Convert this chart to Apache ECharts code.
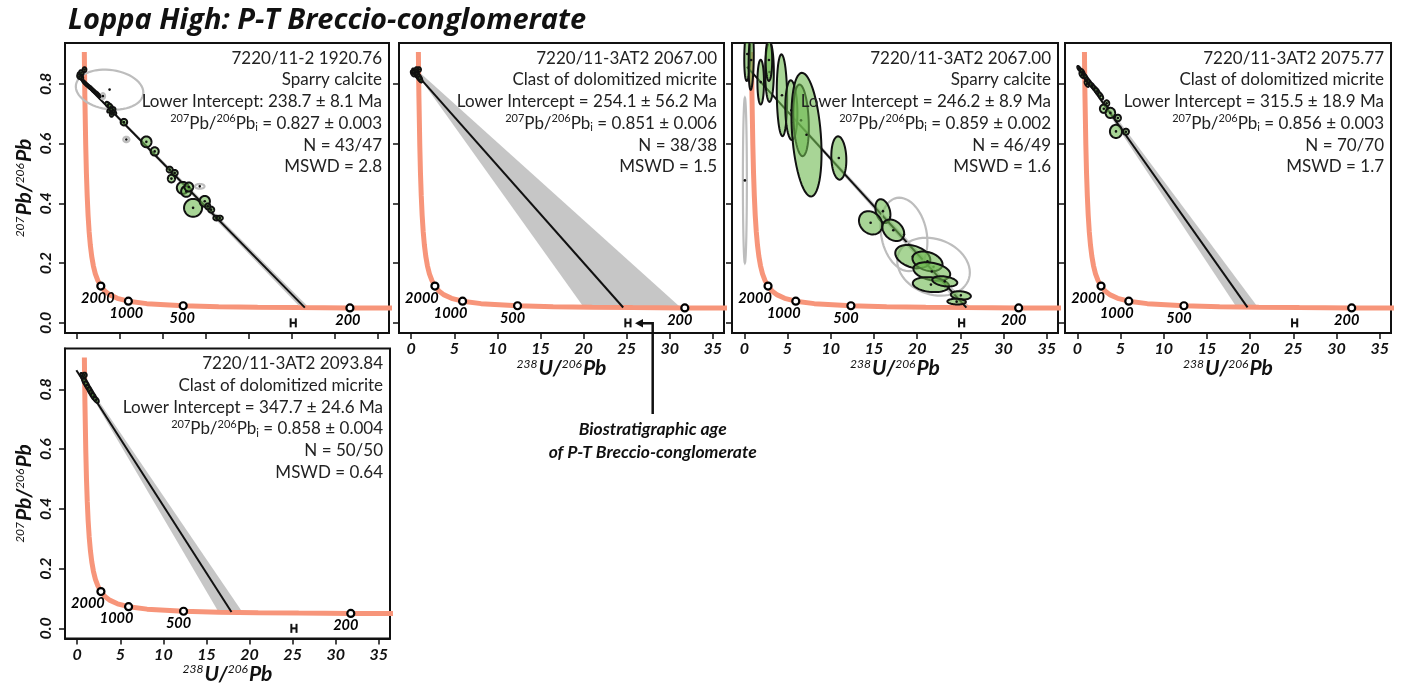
<!DOCTYPE html>
<html><head><meta charset="utf-8">
<script src="https://cdn.jsdelivr.net/npm/echarts@6/dist/echarts.min.js"></script>
<style>html,body{margin:0;padding:0;background:#fff}#c{width:1403px;height:689px}</style>
</head><body><div id="c"></div>
<script>
// ---------- shared data ----------
const xTicks = [0, 5, 10, 15, 20, 25, 30, 35];
const yTicks = [0, 0.2, 0.4, 0.6, 0.8];
const concordia = [[0.83,0.907],[0.853,0.846],[0.89,0.76],[0.99,0.597],[1.07,0.503],[1.163,0.425],[1.267,0.36],[1.387,0.306],[1.525,0.261],[1.687,0.223],[1.88,0.191],[2.111,0.164],[2.394,0.142],[2.749,0.123],[3.206,0.107],[3.817,0.0936],[4.673,0.0822],[5.96,0.0725],[8.1,0.0643],[12.34,0.0573],[16.47,0.0542],[21.0,0.0524],[25.7,0.0512],[31.75,0.0501],[37.4,0.0495]];
const ageX = [2.749, 5.96, 12.34, 31.75];
const ageY = [0.123, 0.0725, 0.0573, 0.0501];
const ageLabels = ['2000', '1000', '500', '200'];
const bioAgeX = [24.85, 25.45];
const bioAgeY = [0];

// ---------- panel 1 ----------
const p1Text = ['7220/11-2 1920.76', 'Sparry calcite', 'Lower Intercept: 238.7 ± 8.1 Ma', '{s|207}Pb/{s|206}Pb{i|i} = 0.827 ± 0.003', 'N = 43/47', 'MSWD = 2.8'];
const p1Line = [[0.3, 0.818], [26.5, 0.0508]];
const p1Env = [[0.3, 0.816], [26.0, 0.0512], [27.0, 0.0507], [0.3, 0.822]];
const p1Green = [
  [0.35,0.830,0.30,0.009,-0.3],[0.50,0.838,0.25,0.008,-0.3],[0.85,0.848,0.22,0.008,0],[0.45,0.822,0.25,0.007,-0.3],[0.25,0.824,0.25,0.008,-0.3],
  [0.8,0.806,0.22,0.007,-0.6],[1.0,0.800,0.22,0.007,-0.6],[1.2,0.795,0.22,0.007,-0.6],[1.4,0.790,0.22,0.007,-0.6],
  [1.6,0.786,0.22,0.007,-0.6],[1.8,0.780,0.22,0.007,-0.6],[2.0,0.775,0.22,0.007,-0.6],[2.3,0.768,0.22,0.007,-0.6],[2.5,0.762,0.2,0.007,-0.6],
  [3.6,0.730,0.3,0.010,-0.5],[3.9,0.722,0.3,0.012,-0.5],[4.1,0.712,0.35,0.010,0.3],[4.3,0.705,0.25,0.008,-0.5],[3.8,0.712,0.3,0.008,0.5],[4.0,0.698,0.2,0.008,0],
  [5.44,0.672,0.38,0.011,0],[8.05,0.606,0.6,0.018,0],[9.02,0.574,0.47,0.014,0],
  [10.77,0.513,0.35,0.010,0],[11.35,0.502,0.35,0.010,0],[10.97,0.483,0.42,0.013,0],
  [12.3,0.452,0.7,0.020,0],[12.7,0.440,0.6,0.018,0],[13.0,0.455,0.5,0.015,0],
  [13.49,0.385,1.05,0.030,0],[14.85,0.407,0.6,0.018,0],[15.6,0.379,0.35,0.010,0],[15.2,0.390,0.3,0.010,0],
  [16.2,0.351,0.35,0.008,0],[16.6,0.351,0.35,0.008,0]
];
const p1Grey = [[3.77,0.781,3.93,0.067,-0.15],[2.99,0.759,0.25,0.010,0],[5.72,0.614,0.35,0.009,0],[14.27,0.457,0.55,0.008,0]];

// ---------- panel 2 ----------
const p2Text = ['7220/11-3AT2 2067.00', 'Clast of dolomitized micrite', 'Lower Intercept = 254.1 ± 56.2 Ma', '{s|207}Pb/{s|206}Pb{i|i} = 0.851 ± 0.006', 'N = 38/38', 'MSWD = 1.5'];
const p2Line = [[0.3, 0.843], [24.6, 0.0515]];
const p2Env = [[0.6, 0.836], [20.0, 0.053], [31.3, 0.0503], [0.6, 0.848]];
const p2Green = [[0.2,0.835,0.25,0.010,-0.5],[0.35,0.842,0.25,0.010,-0.5],[0.5,0.838,0.3,0.010,-0.5],[0.65,0.830,0.3,0.010,-0.5],
  [0.8,0.826,0.3,0.012,-0.5],[0.95,0.820,0.3,0.012,-0.5],[1.05,0.815,0.25,0.010,-0.5],[0.88,0.848,0.25,0.008,0],[0.6,0.848,0.2,0.008,0]];
const p2Grey = [];

// ---------- panel 3 ----------
const p3Text = ['7220/11-3AT2 2067.00', 'Sparry calcite', 'Lower Intercept = 246.2 ± 8.9 Ma', '{s|207}Pb/{s|206}Pb{i|i} = 0.859 ± 0.002', 'N = 46/49', 'MSWD = 1.6'];
const p3Line = [[0.3, 0.857], [25.7, 0.0511]];
const p3Env = [[0.3, 0.855], [25.2, 0.0512], [26.2, 0.0508], [0.3, 0.861]];
const p3Green = [
  [0.35,0.90,0.35,0.09,0.2],[0.8,0.88,0.3,0.10,0.2],[1.9,0.806,0.38,0.075,0],[2.92,0.84,0.5,0.10,0],[2.85,0.88,0.38,0.07,0],
  [4.36,0.762,0.6,0.137,-0.1],[5.45,0.712,0.7,0.10,-0.1],[6.57,0.678,0.9,0.12,-0.2],[7.2,0.63,1.74,0.207,-0.3],
  [10.94,0.552,0.87,0.0725,-0.1],[16.04,0.374,0.87,0.040,-0.3],[14.62,0.335,1.35,0.039,-0.2],[17.24,0.31,1.26,0.036,-0.3],
  [19.5,0.222,2.03,0.039,-0.3],[21.2,0.206,1.74,0.033,-0.3],[21.7,0.172,2.13,0.031,-0.3],[21.6,0.128,2.1,0.025,-0.2],
  [23.2,0.139,1.45,0.017,-0.3],[25.06,0.092,1.16,0.014,-0.2],[24.57,0.071,1.07,0.0095,-0.1]
];
const p3Grey = [[0.07,0.477,0.23,0.276,0],[18.48,0.296,2.71,0.123,-0.2],[21.9,0.188,4.2,0.097,-0.2]];

// ---------- panel 4 ----------
const p4Text = ['7220/11-3AT2 2075.77', 'Clast of dolomitized micrite', 'Lower Intercept = 315.5 ± 18.9 Ma', '{s|207}Pb/{s|206}Pb{i|i} = 0.856 ± 0.003', 'N = 70/70', 'MSWD = 1.7'];
const p4Line = [[0.2, 0.85], [19.7, 0.052]];
const p4Env = [[0.3, 0.846], [18.4, 0.0535], [20.9, 0.0525], [0.3, 0.852]];
const p4Green = [
  [0.2,0.852,0.2,0.008,-0.6],[0.4,0.845,0.2,0.008,-0.6],[0.6,0.840,0.25,0.010,-0.6],[0.8,0.828,0.25,0.010,-0.6],[1.0,0.820,0.25,0.012,-0.6],
  [1.2,0.812,0.25,0.010,-0.6],[1.4,0.805,0.25,0.010,-0.6],[1.7,0.795,0.3,0.010,-0.6],[2.0,0.785,0.3,0.010,-0.6],[2.3,0.775,0.3,0.012,-0.6],
  [2.7,0.760,0.3,0.012,-0.6],[0.5,0.830,0.25,0.010,-0.6],[1.1,0.800,0.25,0.010,-0.6],[3.4,0.735,0.3,0.010,0],[3.07,0.717,0.45,0.014,0],
  [3.83,0.703,0.55,0.017,0],[4.7,0.686,0.35,0.011,0],[4.48,0.641,0.7,0.022,0],[5.63,0.640,0.35,0.010,0]
];
const p4Grey = [];

// ---------- panel 5 ----------
const p5Text = ['7220/11-3AT2 2093.84', 'Clast of dolomitized micrite', 'Lower Intercept = 347.7 ± 24.6 Ma', '{s|207}Pb/{s|206}Pb{i|i} = 0.858 ± 0.004', 'N = 50/50', 'MSWD = 0.64'];
const p5Line = [[-0.1, 0.864], [17.9, 0.0545]];
const p5Env = [[0.5, 0.836], [16.4, 0.0548], [19.2, 0.0532], [0.5, 0.846]];
const p5Green = [[0.6,0.845,0.25,0.010,-0.5],[0.75,0.835,0.25,0.012,-0.5],[0.9,0.825,0.3,0.012,-0.5],[1.1,0.815,0.3,0.012,-0.5],
  [1.3,0.805,0.3,0.010,-0.5],[1.5,0.795,0.3,0.012,-0.5],[1.7,0.785,0.3,0.012,-0.5],[1.9,0.776,0.3,0.012,-0.5],[2.2,0.765,0.3,0.010,-0.5],
  [0.85,0.848,0.25,0.008,0]];
const p5Grey = [];

// ---------- layout ----------
const FONT = 'Lato, "Noto Sans", sans-serif';
const grids = [
  {left: 65, top: 43, width: 324, height: 290},
  {left: 399, top: 43, width: 325, height: 290},
  {left: 732, top: 43, width: 326, height: 290},
  {left: 1065, top: 43, width: 326, height: 290},
  {left: 65, top: 348.5, width: 325, height: 290}
];
const labelShiftA = [-3, -2, -1, -2];
const labelShiftB = [-13, -12, -5, -5];
const panels = [
  {text: p1Text, line: p1Line, env: p1Env, green: p1Green, grey: p1Grey, xl: false, yl: true, shift: labelShiftA},
  {text: p2Text, line: p2Line, env: p2Env, green: p2Green, grey: p2Grey, xl: true, yl: false, shift: labelShiftB},
  {text: p3Text, line: p3Line, env: p3Env, green: p3Green, grey: p3Grey, xl: true, yl: false, shift: labelShiftB},
  {text: p4Text, line: p4Line, env: p4Env, green: p4Green, grey: p4Grey, xl: true, yl: false, shift: labelShiftB},
  {text: p5Text, line: p5Line, env: p5Env, green: p5Green, grey: p5Grey, xl: true, yl: true, shift: labelShiftB}
];

function ellRender(kind) {
  return function (params, api) {
    const cx = api.value(0), cy = api.value(1), sx = api.value(2), sy = api.value(3), r = api.value(4);
    const q = Math.sqrt(Math.max(0, 1 - r * r));
    const pts = [];
    for (let k = 0; k < 60; k++) {
      const t = 2 * Math.PI * k / 60;
      pts.push(api.coord([cx + sx * Math.cos(t), cy + sy * (r * Math.cos(t) + q * Math.sin(t))]));
    }
    const c = api.coord([cx, cy]);
    const style = kind === 'green'
      ? {fill: 'rgba(110,185,80,0.6)', stroke: '#111', lineWidth: 2}
      : {fill: 'rgba(0,0,0,0)', stroke: '#bdbdbd', lineWidth: 2.2};
    return {type: 'group', children: [
      {type: 'polygon', shape: {points: pts}, style: style},
      {type: 'circle', shape: {cx: c[0], cy: c[1], r: 1.3}, style: {fill: '#111'}}
    ]};
  };
}
function polyRender(points) {
  return function (params, api) {
    if (params.dataIndex !== 0) return null;
    return {type: 'polygon', shape: {points: points.map(p => api.coord(p))}, style: {fill: '#c6c6c6'}};
  };
}
function bioRender(params, api) {
  const a = api.coord([api.value(0), api.value(2)]);
  const b = api.coord([api.value(1), api.value(2)]);
  const ls = {stroke: '#111', lineWidth: 2};
  return {type: 'group', children: [
    {type: 'line', shape: {x1: a[0], y1: a[1], x2: b[0], y2: b[1]}, style: ls},
    {type: 'line', shape: {x1: a[0], y1: a[1] - 4.5, x2: a[0], y2: a[1] + 4.5}, style: ls},
    {type: 'line', shape: {x1: b[0], y1: b[1] - 4.5, x2: b[0], y2: b[1] + 4.5}, style: ls}
  ]};
}

const supRich = {
  s: {fontSize: 12, fontFamily: FONT, fontStyle: 'italic', color: '#111', verticalAlign: 'top', padding: [0, 1, 0, 0]},
  m: {fontSize: 21, fontFamily: FONT, fontStyle: 'italic', fontWeight: 'bold', color: '#111'}
};
const annRich = {
  s: {fontSize: 11, fontFamily: FONT, fill: '#222', verticalAlign: 'top', lineHeight: 20},
  i: {fontSize: 11, fontFamily: FONT, fill: '#222', verticalAlign: 'bottom', lineHeight: 14}
};

const xAxes = [], yAxes = [], series = [], graphics = [];
panels.forEach((p, i) => {
  xAxes.push({
    gridIndex: i, type: 'value', min: -1.42, max: 36.3,
    axisLine: {show: true, onZero: false, lineStyle: {color: '#111', width: 2}},
    axisTick: {show: true, length: 6, customValues: xTicks, lineStyle: {color: '#111', width: 1.5}},
    axisLabel: {show: p.xl, customValues: xTicks, margin: 8, fontFamily: FONT, fontStyle: 'italic', fontWeight: 'bold', fontSize: 16, color: '#111'},
    splitLine: {show: false},
    name: p.xl ? '{s|238}{m|U/}{s|206}{m|Pb}' : '', nameLocation: 'middle', nameGap: 22,
    nameTextStyle: {rich: supRich}
  });
  yAxes.push({
    gridIndex: i, type: 'value', min: -0.034, max: 0.937,
    axisLine: {show: true, onZero: false, lineStyle: {color: '#111', width: 2}},
    axisTick: {show: true, length: 6, customValues: yTicks, lineStyle: {color: '#111', width: 1.5}},
    axisLabel: {show: p.yl, customValues: yTicks, rotate: 90, margin: 11, fontFamily: FONT, fontStyle: 'italic', fontWeight: 'bold', fontSize: 16, color: '#111',
      formatter: v => v.toFixed(1)},
    splitLine: {show: false},
    name: p.yl ? '{s|207}{m|Pb/}{s|206}{m|Pb}' : '', nameLocation: 'middle', nameGap: 30, nameRotate: 90,
    nameTextStyle: {rich: supRich}
  });
  series.push({type: 'custom', xAxisIndex: i, yAxisIndex: i, data: p.env, renderItem: polyRender(p.env), clip: true, silent: true, z: 1});
  series.push({type: 'line', xAxisIndex: i, yAxisIndex: i, data: concordia, showSymbol: false, clip: true, silent: true,
    lineStyle: {color: '#F7957A', width: 5}, z: 2});
  series.push({type: 'line', xAxisIndex: i, yAxisIndex: i, data: p.line, showSymbol: false, silent: true,
    lineStyle: {color: '#111', width: 2}, z: 3});
  series.push({type: 'custom', xAxisIndex: i, yAxisIndex: i, data: p.grey, renderItem: ellRender('grey'), clip: true, z: 4});
  series.push({type: 'custom', xAxisIndex: i, yAxisIndex: i, data: p.green, renderItem: ellRender('green'), clip: true, z: 5});
  series.push({type: 'scatter', xAxisIndex: i, yAxisIndex: i, symbol: 'circle', symbolSize: 7,
    data: ageX.map((x, k) => ({value: [x, ageY[k]], label: {offset: [p.shift[k], 0]}})),
    itemStyle: {color: '#fff', borderColor: '#000', borderWidth: 2.2, opacity: 1}, z: 6, silent: true,
    label: {show: true, position: 'bottom', distance: 0, formatter: q => ageLabels[q.dataIndex], textBorderWidth: 0, opacity: 1,
      fontFamily: FONT, fontStyle: 'italic', fontWeight: 'bold', fontSize: 14.5, color: '#000'}});
  series.push({type: 'custom', xAxisIndex: i, yAxisIndex: i, data: [[bioAgeX[0], bioAgeX[1], bioAgeY[0]]],
    encode: {x: [0, 1], y: 2}, renderItem: bioRender, z: 6, silent: true});
  const g = grids[i];
  p.text.forEach((t, k) => {
    graphics.push({type: 'text', x: g.left + g.width - 7, y: g.top + 15.3 + k * 21.7, z: 100,
      style: {text: t, align: 'right', verticalAlign: 'middle', fontFamily: FONT, fontSize: 17, fill: '#222', rich: annRich}});
  });
});

// annotation arrow and text
graphics.push({type: 'polyline', shape: {points: [[652.7, 414], [652.7, 323.3], [641, 323.3]]}, style: {stroke: '#111', lineWidth: 2.5, fill: null}, z: 100});
graphics.push({type: 'polygon', shape: {points: [[635, 323.3], [643, 319], [643, 327.6]]}, style: {fill: '#111'}, z: 100});
graphics.push({type: 'text', x: 652.7, y: 441, z: 100,
  style: {text: 'Biostratigraphic age\nof P-T Breccio-conglomerate', align: 'center', verticalAlign: 'middle', fontFamily: FONT,
    fontStyle: 'italic', fontWeight: 'bold', fontSize: 17.5, lineHeight: 22.5, fill: '#111'}});

const chart = echarts.init(document.getElementById('c'), null, {renderer: 'canvas'});
chart.setOption({
  backgroundColor: '#fff',
  animation: false,
  title: {text: 'Loppa High: P-T Breccio-conglomerate', left: 63, top: 1,
    textStyle: {fontFamily: '"Open Sans", Lato, sans-serif', fontStyle: 'italic', fontWeight: 'bold', fontSize: 29, color: '#111'}},
  grid: grids.map(g => Object.assign({show: true, borderColor: '#111', borderWidth: 2, backgroundColor: 'transparent', containLabel: false}, g)),
  xAxis: xAxes, yAxis: yAxes, series: series, graphic: graphics
});
</script></body></html>
